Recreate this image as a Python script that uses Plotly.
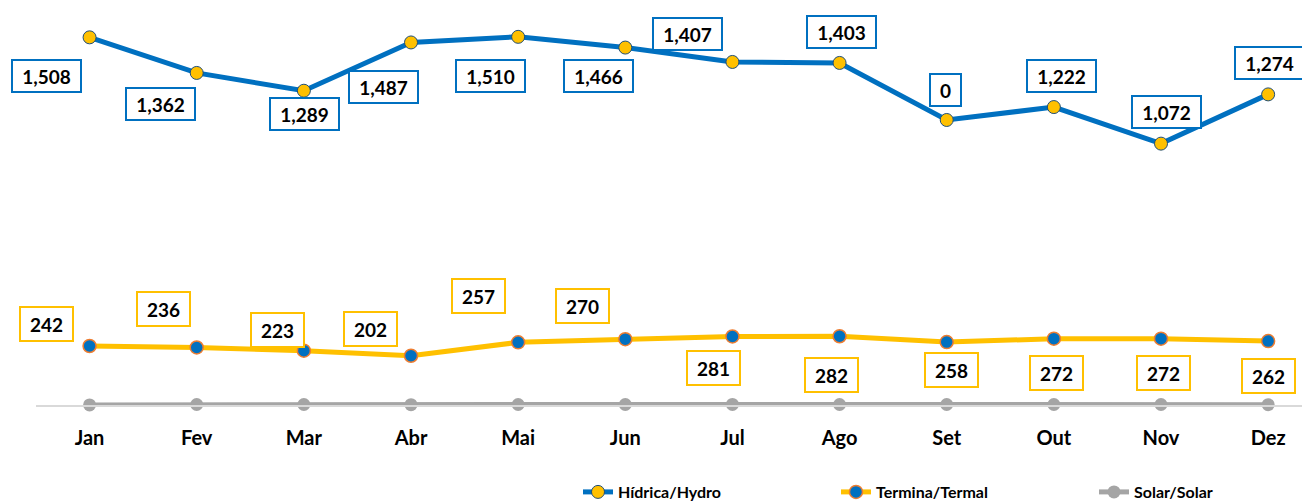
import plotly.graph_objects as go

months = ["Jan", "Fev", "Mar", "Abr", "Mai", "Jun", "Jul", "Ago", "Set", "Out", "Nov", "Dez"]
hydro = [1508, 1362, 1289, 1487, 1510, 1466, 1407, 1403, 1169, 1222, 1072, 1274]
hydro_labels = ["1,508", "1,362", "1,289", "1,487", "1,510", "1,466", "1,407", "1,403", "0", "1,222", "1,072", "1,274"]
thermal = [242, 236, 223, 202, 257, 270, 281, 282, 258, 272, 272, 262]
thermal_labels = ["242", "236", "223", "202", "257", "270", "281", "282", "258", "272", "272", "262"]
solar = [0.5, 2, 2, 1.5, 2, 2, 2.5, 2, 2, 2, 2, 1.5]

# label offsets in pixels (dx, dy down-positive)
hydro_off = [(-43, 39), (-36, 31), (1, 23), (-28, 45), (-28, 39), (-27, 28),
             (-45, -28), (2, -31), (-1, -30), (8, -31), (5, -32), (1, -31)]
thermal_off = [(-43, -22), (-33, -38), (-26, -21), (-41, -27), (-40, -46), (-43, -33),
               (-19, 32), (-8, 39), (5, 28), (3, 34), (2, 34), (0, 35)]

BLUE = "#0070C0"
GOLD = "#FFC000"
GRAY = "#A5A5A5"
FONT = "Lato"

fig = go.Figure()
fig.add_trace(go.Scatter(x=months, y=hydro, name="Hídrica/Hydro", mode="lines+markers",
                         line=dict(color=BLUE, width=5),
                         marker=dict(color=GOLD, size=13, line=dict(color="#1F4E79", width=1)),
                         cliponaxis=False))
fig.add_trace(go.Scatter(x=months, y=thermal, name="Termina/Termal", mode="lines+markers",
                         line=dict(color=GOLD, width=5),
                         marker=dict(color=BLUE, size=13, line=dict(color="#ED7D31", width=1.5)),
                         cliponaxis=False))
fig.add_trace(go.Scatter(x=months, y=solar, name="Solar/Solar", mode="lines+markers",
                         line=dict(color=GRAY, width=5),
                         marker=dict(color=GRAY, size=13),
                         cliponaxis=False))


def box_width(t):
    digits = sum(c.isdigit() for c in t)
    commas = t.count(",")
    return 11 * digits + 5 * commas + 12


for m, v, t, (dx, dy) in zip(months, hydro, hydro_labels, hydro_off):
    fig.add_annotation(x=m, y=v, text=t, showarrow=False, xshift=dx, yshift=-dy,
                       font=dict(family=FONT, size=19, color="black", weight="bold"),
                       bordercolor=BLUE, borderwidth=2, borderpad=3, bgcolor="white",
                       width=box_width(t), height=24)
for m, v, t, (dx, dy) in zip(months, thermal, thermal_labels, thermal_off):
    fig.add_annotation(x=m, y=v, text=t, showarrow=False, xshift=dx, yshift=-dy,
                       font=dict(family=FONT, size=19, color="black", weight="bold"),
                       bordercolor=GOLD, borderwidth=2, borderpad=3, bgcolor="white",
                       width=box_width(t), height=26)

fig.update_layout(
    width=1310, height=501,
    margin=dict(l=28, r=7, t=3, b=104, autoexpand=False),
    plot_bgcolor="white", paper_bgcolor="white",
    font=dict(family=FONT, color="black"),
    xaxis=dict(type="category", range=[-0.5, 11.4], showgrid=False, zeroline=False,
               showline=True, linecolor="#D9D9D9", linewidth=1.5,
               ticks="outside", ticklen=14, tickcolor="rgba(0,0,0,0)",
               tickfont=dict(family=FONT, size=20, color="black", weight="bold")),
    yaxis=dict(range=[0, 1616], visible=False, showgrid=False, zeroline=False),
    legend=dict(orientation="h", xref="container", yref="container",
                x=570 / 1310, xanchor="left", y=0.0, yanchor="bottom",
                font=dict(family=FONT, size=16, color="black", weight="bold"),
                entrywidth=213, tracegroupgap=0),
    showlegend=True,
)

fig.write_html("out.html")
